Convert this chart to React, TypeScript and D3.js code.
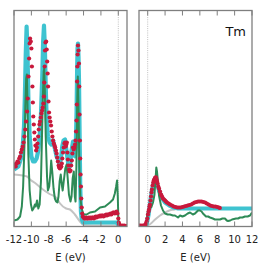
import React from "react";
import * as d3 from "d3";

type P = [number, number];

const leftTicks = [-12, -10, -8, -6, -4, -2, 0];
const rightTicks = [0, 2, 4, 6, 8, 10, 12];
const elementLabel = "Tm";
const axisTitle = "E (eV)";

const leftCyan: P[] = [
  [-12, 57], [-11.5, 60], [-11.2, 68], [-11.0, 80], [-10.85, 100], [-10.75, 130], [-10.65, 172], [-10.55, 200],
  [-10.45, 176], [-10.35, 130], [-10.2, 90], [-10.0, 70], [-9.8, 65], [-9.6, 65], [-9.4, 68], [-9.2, 76],
  [-9.05, 90], [-8.9, 112], [-8.75, 150], [-8.65, 185], [-8.55, 201], [-8.45, 180], [-8.35, 140], [-8.25, 110],
  [-8.1, 90], [-7.9, 84], [-7.7, 82], [-7.5, 86], [-7.3, 78], [-7.1, 70], [-6.9, 66], [-6.75, 62], [-6.6, 68],
  [-6.45, 80], [-6.3, 86], [-6.13, 87], [-5.95, 75], [-5.75, 62], [-5.56, 60], [-5.4, 75], [-5.21, 85],
  [-5.08, 75], [-4.98, 70], [-4.88, 85], [-4.8, 115], [-4.74, 155], [-4.69, 178], [-4.64, 183], [-4.58, 170],
  [-4.52, 145], [-4.45, 90], [-4.38, 40], [-4.3, 15], [-4.2, 7], [-4.05, 4], [-3, 4], [-2, 4], [-1, 4],
  [-0.15, 4], [0, 1], [0.1, 0.5], [1, 0.5],
];

const leftGreen: P[] = [
  [-12, 6], [-11.6, 7], [-11.3, 10], [-11.1, 20], [-10.95, 40], [-10.8, 80], [-10.7, 120], [-10.6, 148],
  [-10.52, 152], [-10.45, 122], [-10.35, 72], [-10.2, 36], [-10.05, 22], [-9.9, 16], [-9.75, 18], [-9.6, 22],
  [-9.5, 20], [-9.35, 26], [-9.2, 18], [-9.05, 22], [-8.9, 45], [-8.78, 90], [-8.68, 130], [-8.58, 155],
  [-8.52, 158], [-8.45, 135], [-8.35, 90], [-8.2, 50], [-8.1, 36], [-7.95, 40], [-7.8, 55], [-7.72, 66],
  [-7.6, 55], [-7.45, 38], [-7.3, 28], [-7.15, 25], [-7.0, 24], [-6.88, 30], [-6.75, 45], [-6.62, 52],
  [-6.5, 42], [-6.4, 36], [-6.28, 45], [-6.1, 58], [-5.95, 62], [-5.82, 48], [-5.68, 32], [-5.5, 25],
  [-5.38, 30], [-5.25, 48], [-5.12, 55], [-5.0, 30], [-4.92, 25], [-4.82, 60], [-4.74, 120], [-4.66, 150],
  [-4.58, 120], [-4.48, 60], [-4.38, 30], [-4.22, 18], [-4.0, 12], [-3.64, 12], [-3.26, 14], [-2.68, 15],
  [-2.1, 19], [-1.53, 20], [-0.96, 24], [-0.61, 27], [-0.4, 33], [-0.25, 40], [-0.14, 46], [-0.06, 30],
  [0.02, 3], [0.2, 0.5], [1, 0.5],
];

const leftGray: P[] = [
  [-12, 52], [-11, 51], [-10.5, 50], [-10.16, 47], [-9.5, 43], [-8.67, 37], [-8, 33], [-7.05, 28],
  [-6.7, 23], [-6, 18], [-5.56, 17], [-5, 12], [-4.41, 5], [-4.0, 1.5], [-3, 1], [1, 1],
];

const leftRed: P[] = [
  [-12.0, 60], [-11.9, 62], [-11.8, 60], [-11.7, 63], [-11.6, 65], [-11.5, 64], [-11.4, 68], [-11.3, 70],
  [-11.2, 74], [-11.1, 77], [-11.0, 80], [-10.9, 84], [-10.8, 90], [-10.7, 97], [-10.6, 105], [-10.5, 115],
  [-10.42, 128], [-10.33, 150], [-10.26, 168], [-10.2, 183], [-10.15, 188],
  [-10.07, 185], [-10.0, 178], [-9.94, 160], [-9.88, 140], [-9.83, 124],
  [-9.78, 110], [-9.72, 102], [-9.66, 94], [-9.6, 87], [-9.53, 81],
  [-9.45, 76], [-9.37, 79], [-9.3, 83], [-9.22, 90], [-9.15, 97],
  [-9.07, 102], [-9.0, 105], [-8.92, 109], [-8.85, 113], [-8.77, 116],
  [-8.7, 119], [-8.62, 123], [-8.56, 130], [-8.52, 144], [-8.47, 160], [-8.43, 176],
  [-8.38, 184], [-8.3, 185], [-8.24, 177], [-8.18, 165], [-8.13, 153], [-8.08, 140],
  [-8.03, 125], [-7.97, 114], [-7.9, 109], [-7.82, 105], [-7.74, 101], [-7.66, 95],
  [-7.58, 90], [-7.5, 86], [-7.42, 83], [-7.34, 81], [-7.26, 79], [-7.18, 76],
  [-7.1, 73], [-7.03, 69], [-6.95, 65], [-6.87, 61], [-6.8, 59], [-6.72, 58],
  [-6.64, 59], [-6.56, 60], [-6.5, 63], [-6.44, 68], [-6.36, 74], [-6.28, 79],
  [-6.2, 83], [-6.13, 84], [-6.05, 80], [-5.98, 82], [-5.92, 84], [-5.86, 74],
  [-5.8, 67], [-5.73, 61], [-5.66, 57], [-5.58, 55], [-5.5, 56],
  [-5.42, 61], [-5.35, 66], [-5.28, 73], [-5.21, 79], [-5.13, 77], [-5.05, 79],
  [-4.98, 82], [-4.92, 86], [-4.86, 95], [-4.81, 106], [-4.77, 122],
  [-4.74, 145], [-4.71, 160], [-4.68, 172], [-4.64, 181], [-4.58, 176],
  [-4.53, 163], [-4.49, 140], [-4.46, 112], [-4.42, 86], [-4.38, 68],
  [-4.34, 52], [-4.3, 40], [-4.26, 28], [-4.21, 19], [-4.15, 13], [-4.08, 10], [-4.0, 9],
  [-3.9, 8], [-3.8, 8], [-3.7, 9], [-3.6, 8], [-3.5, 8], [-3.4, 9], [-3.3, 8], [-3.2, 9], [-3.1, 8], [-3.0, 9],
  [-2.9, 9], [-2.8, 8], [-2.7, 9], [-2.6, 10], [-2.5, 9], [-2.4, 10], [-2.3, 10], [-2.2, 10], [-2.1, 11],
  [-2.0, 10], [-1.9, 11], [-1.8, 11], [-1.7, 10], [-1.6, 11], [-1.5, 11], [-1.4, 12], [-1.3, 11], [-1.2, 12],
  [-1.1, 12], [-1.0, 12], [-0.9, 13], [-0.8, 12], [-0.7, 13], [-0.6, 14], [-0.5, 14], [-0.4, 13], [-0.3, 14],
  [-0.2, 15], [-0.1, 13], [0.0, 8], [0.05, 4], [0.1, 2], [0.2, 1], [0.3, 1], [0.4, 0.5], [0.5, 1], [0.6, 0.5],
  [0.7, 1], [0.8, 0.5], [0.9, 0.5],
];

const rightCyan: P[] = [
  [-1, 0.5], [-0.3, 0.5], [-0.1, 3], [0.1, 12], [0.3, 25], [0.5, 37], [0.7, 44], [0.9, 46], [1.1, 42],
  [1.3, 36], [1.6, 29], [2.0, 24], [2.5, 21], [3.0, 19], [3.5, 18], [4, 18], [6, 18], [8, 18], [10, 18], [12, 18],
];

const rightGreen: P[] = [
  [-1, 0.5], [-0.3, 0.5], [-0.15, 3], [0.03, 16], [0.23, 19], [0.41, 19], [0.61, 24], [0.78, 32], [0.9, 47],
  [0.99, 59], [1.07, 55], [1.19, 44], [1.3, 31], [1.53, 21], [1.76, 16], [1.99, 13], [2.3, 12], [2.57, 12],
  [2.9, 11], [3.14, 11], [3.49, 9], [3.72, 11], [4.0, 10], [4.29, 11], [4.6, 13], [4.87, 14], [5.2, 12],
  [5.44, 13], [5.79, 16], [6.02, 16], [6.2, 15], [6.36, 13], [6.71, 10], [6.95, 10], [7.17, 9], [7.5, 8],
  [7.74, 7], [8.0, 7], [8.32, 7], [8.6, 8], [8.89, 8], [9.1, 6], [9.24, 5.5], [9.5, 6], [9.7, 7], [10.16, 8],
  [10.4, 8], [10.62, 9], [10.9, 9], [11.19, 10], [11.5, 10], [11.77, 11], [12, 14],
];

const rightGray: P[] = [
  [-1, 0.5], [-0.3, 0.5], [0.3, 2.5], [0.85, 7], [1.42, 11], [2.0, 14], [2.5, 16], [3.1, 17], [3.6, 18],
  [5, 18], [12, 18],
];

const rightRed: P[] = [
  [-1.0, 1], [-0.8, 1], [-0.6, 1], [-0.4, 1], [-0.3, 1.5], [-0.2, 3], [-0.12, 5], [-0.05, 8], [0.03, 12],
  [0.1, 15], [0.15, 17], [0.2, 20], [0.26, 22], [0.32, 26], [0.38, 30], [0.44, 34], [0.49, 37], [0.56, 41],
  [0.64, 44], [0.7, 46], [0.76, 47], [0.82, 48], [0.87, 49], [0.92, 49], [0.96, 49], [1.02, 47], [1.07, 45],
  [1.14, 43], [1.22, 40], [1.3, 38], [1.42, 35], [1.54, 32], [1.65, 30], [1.76, 28], [1.88, 27], [2.0, 26],
  [2.1, 25], [2.22, 24], [2.4, 23], [2.57, 22], [2.8, 21], [3.0, 20], [3.2, 19.5], [3.4, 19], [3.6, 19],
  [3.8, 19], [4.0, 19.5], [4.2, 20], [4.4, 20.5], [4.6, 21], [4.8, 21.5], [5.0, 22], [5.2, 23], [5.4, 24],
  [5.6, 24.5], [5.8, 25], [6.0, 25], [6.2, 25], [6.4, 24.5], [6.6, 24], [6.8, 23], [7.0, 22], [7.2, 21],
  [7.4, 20.5], [7.6, 20], [7.8, 20], [8.0, 19.5], [8.2, 19], [8.3, 18.5],
];

const TOP = 10.5;
const BOTTOM = 226.5;
const FONT = "DejaVu Sans, sans-serif";
const CYAN = "#3ec3d0";
const GREEN = "#2e8b57";
const GRAY = "#c4c4c4";
const RED = "#c8193c";
const FRAME = "#7f7f7f";

type PanelProps = {
  id: string;
  x0: number;
  x1: number;
  domain: [number, number];
  ticks: number[];
  cyan: P[];
  green: P[];
  gray: P[];
  red: P[];
  label?: string;
};

function Panel({ id, x0, x1, domain, ticks, cyan, green, gray, red, label }: PanelProps) {
  const x = d3.scaleLinear().domain(domain).range([x0, x1]);
  const y = d3.scaleLinear().domain([0, 216]).range([BOTTOM, TOP]);
  const smooth = d3
    .line<P>()
    .x((d) => x(d[0]))
    .y((d) => y(d[1]))
    .curve(d3.curveMonotoneX);
  const sharp = d3
    .line<P>()
    .x((d) => x(d[0]))
    .y((d) => y(d[1]))
    .curve(d3.curveLinear);
  return (
    <g>
      <defs>
        <clipPath id={id}>
          <rect x={x0} y={TOP} width={x1 - x0} height={BOTTOM - TOP} />
        </clipPath>
      </defs>
      <line x1={x(0)} x2={x(0)} y1={TOP} y2={BOTTOM} stroke="#b0b0b0" strokeWidth={0.8} strokeDasharray="1,1.2" />
      <g clipPath={`url(#${id})`}>
        <path d={smooth(gray) || ""} fill="none" stroke={GRAY} strokeWidth={2} />
        <path d={sharp(cyan) || ""} fill="none" stroke={CYAN} strokeWidth={4.2} strokeLinejoin="round" />
        <path d={sharp(green) || ""} fill="none" stroke={GREEN} strokeWidth={2} strokeLinejoin="round" />
        {red.map((d, i) => (
          <circle key={i} cx={x(d[0])} cy={y(d[1])} r={2.1} fill={RED} />
        ))}
      </g>
      <rect x={x0} y={TOP} width={x1 - x0} height={BOTTOM - TOP} fill="none" stroke={FRAME} strokeWidth={1.3} />
      {ticks.map((t) => (
        <g key={t}>
          <line x1={x(t)} x2={x(t)} y1={TOP} y2={TOP + 5} stroke={FRAME} strokeWidth={1} />
          <line x1={x(t)} x2={x(t)} y1={BOTTOM} y2={BOTTOM - 5} stroke={FRAME} strokeWidth={1} />
          <text x={x(t)} y={243} textAnchor="middle" fontFamily={FONT} fontSize={10} fill="#222">
            {String(t)}
          </text>
        </g>
      ))}
      <text x={(x0 + x1) / 2} y={261} textAnchor="middle" fontFamily={FONT} fontSize={10} fill="#222">
        {axisTitle}
      </text>
      {label && (
        <text x={x1 - 6} y={36} textAnchor="end" fontFamily={FONT} fontSize={13} fill="#111">
          {label}
        </text>
      )}
    </g>
  );
}

export default function App() {
  return (
    <svg width={266} height={266} style={{ position: "absolute", left: 0, top: 0, background: "#fff" }}>
      <rect width={266} height={266} fill="#fff" />
      <Panel id="clipL" x0={14} x1={127} domain={[-12, 1]} ticks={leftTicks}
        cyan={leftCyan} green={leftGreen} gray={leftGray} red={leftRed} />
      <Panel id="clipR" x0={139} x1={252} domain={[-1, 12]} ticks={rightTicks}
        cyan={rightCyan} green={rightGreen} gray={rightGray} red={rightRed} label={elementLabel} />
    </svg>
  );
}
